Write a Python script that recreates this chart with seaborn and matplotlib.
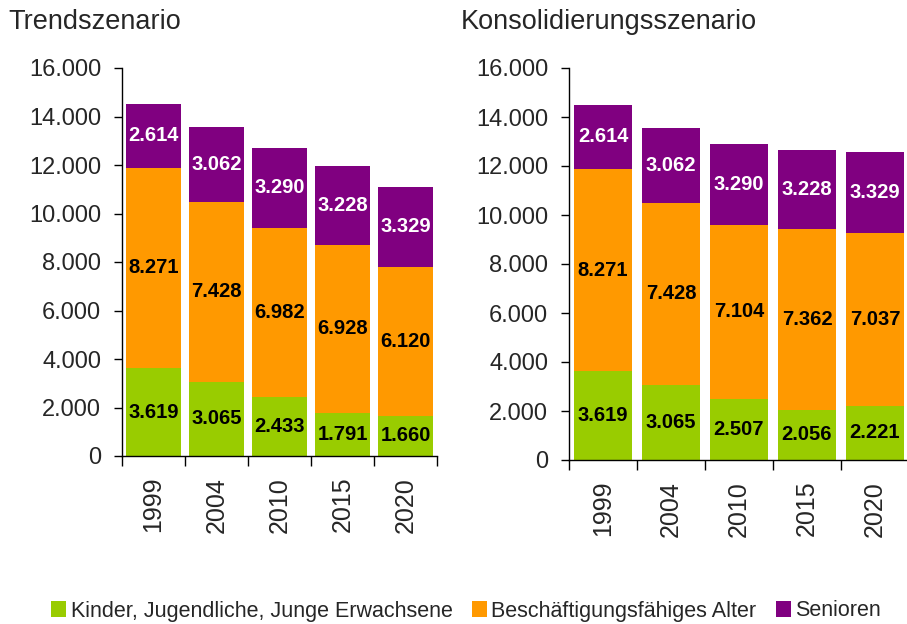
import matplotlib
matplotlib.use("Agg")
import matplotlib.pyplot as plt
import seaborn as sns
import numpy as np
from matplotlib.patches import Patch
from matplotlib.ticker import FuncFormatter, FixedLocator

sns.set_style("ticks")
plt.rcParams['font.family'] = ['Liberation Sans', 'DejaVu Sans']

years = ["1999", "2004", "2010", "2015", "2020"]
series_names = ["Kinder, Jugendliche, Junge Erwachsene", "Beschäftigungsfähiges Alter", "Senioren"]
colors = ["#99CC00", "#FF9900", "#800080"]
label_colors = ["black", "black", "white"]

trend_kinder = [3619, 3065, 2433, 1791, 1660]
trend_alter = [8271, 7428, 6982, 6928, 6120]
trend_senioren = [2614, 3062, 3290, 3228, 3329]

kons_kinder = [3619, 3065, 2507, 2056, 2221]
kons_alter = [8271, 7428, 7104, 7362, 7037]
kons_senioren = [2614, 3062, 3290, 3228, 3329]

titles = ["Trendszenario", "Konsolidierungsszenario"]

fig = plt.figure(figsize=(9.07, 6.24), dpi=100)
ax1 = fig.add_axes([122/907, 1-456/624, 315/907, 388/624])
ax2 = fig.add_axes([569/907, 1-460/624, 340/907, 392/624])

def fmt(v, pos=None):
    return f"{int(v):,}".replace(",", ".")

def draw(ax, data, width):
    bottom = np.zeros(len(years))
    for vals, col, lc in zip(data, colors, label_colors):
        sns.barplot(x=years, y=vals, color=col, saturation=1, bottom=bottom,
                    width=width, ax=ax, linewidth=0)
        cont = ax.containers[-1]
        ax.bar_label(cont, labels=[fmt(v) for v in vals], label_type='center',
                     color=lc, fontsize=14.5, fontweight='bold')
        bottom = bottom + np.array(vals)
    ax.set_ylim(0, 16000)
    ax.set_xlim(-0.5, 4.5)
    ax.set_yticks(np.arange(0, 16001, 2000))
    ax.yaxis.set_major_formatter(FuncFormatter(fmt))
    ax.tick_params(axis='y', labelsize=17, length=6, width=1, pad=9, color='black')
    ax.tick_params(axis='x', which='major', labelsize=18, length=0, pad=15, labelrotation=90)
    ax.xaxis.set_minor_locator(FixedLocator(np.arange(-0.5, 5, 1)))
    ax.tick_params(axis='x', which='minor', length=7, width=1, color='black')
    for lab in ax.get_xticklabels():
        lab.set_rotation(90)
    ax.set_xlabel("")
    ax.set_ylabel("")
    sns.despine(ax=ax)
    for s in ["left", "bottom"]:
        ax.spines[s].set_color("black")
        ax.spines[s].set_linewidth(1)

draw(ax1, [trend_kinder, trend_alter, trend_senioren], 0.86)
draw(ax2, [kons_kinder, kons_alter, kons_senioren], 0.84)

fig.text(8/907, 1-22/624, titles[0], fontsize=19.5, va='center', ha='left')
fig.text(461/907, 1-22/624, titles[1], fontsize=19.5, va='center', ha='left')

handles = [Patch(facecolor=c, edgecolor='none') for c in colors]
fig.legend(handles, series_names, loc='center', bbox_to_anchor=(466/907, 1-611/624),
           ncol=3, frameon=False, fontsize=15.5, handlelength=0.7, handleheight=0.7,
           handletextpad=0.2, columnspacing=0.9, borderpad=0)

fig.savefig("out.png", dpi=100)
